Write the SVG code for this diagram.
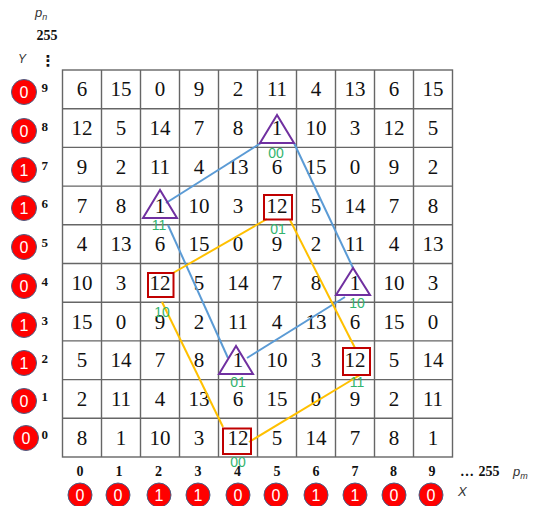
<svg xmlns="http://www.w3.org/2000/svg" width="535" height="506" viewBox="0 0 535 506">
<style>
.grid{stroke:#666;stroke-width:1.4;fill:none}
.n{font-family:"Liberation Serif",serif;font-size:21px;fill:#111;text-anchor:middle}
.ax{font-family:"Liberation Serif",serif;font-size:14px;font-weight:bold;fill:#111;text-anchor:middle}
.sup{font-family:"Liberation Serif",serif;font-size:13px;font-weight:bold;fill:#111}
.bit{fill:#ff0000;stroke:#4a5f86;stroke-width:1}
.bt{font-family:"Liberation Sans",sans-serif;font-size:16px;fill:#fff;text-anchor:middle}
.lab{font-family:"Liberation Sans",sans-serif;font-size:14px;fill:#33b46e;text-anchor:middle}
.it{font-family:"Liberation Sans",sans-serif;font-style:italic;fill:#333}
.tri{fill:none;stroke:#7030a0;stroke-width:2}
.sq{fill:none;stroke:#c00000;stroke-width:2}
.blue{stroke:#5b9bd5;stroke-width:2;fill:none}
.gold{stroke:#ffc000;stroke-width:2;fill:none}
</style>
<g id="grid">
<rect class="grid" x="62.5" y="70" width="390" height="387"/>
<path class="grid" d="M101.5 70V457M140.5 70V457M179.5 70V457M218.5 70V457M257.5 70V457M296.5 70V457M335.5 70V457M374.5 70V457M413.5 70V457"/>
<path class="grid" d="M62.5 108.7H452.5M62.5 147.4H452.5M62.5 186.1H452.5M62.5 224.8H452.5M62.5 263.5H452.5M62.5 302.2H452.5M62.5 340.9H452.5M62.5 379.6H452.5M62.5 418.3H452.5"/>
</g>
<g id="cells">
<text class="n" x="82" y="96.4">6</text><text class="n" x="121" y="96.4">15</text><text class="n" x="160" y="96.4">0</text><text class="n" x="199" y="96.4">9</text><text class="n" x="238" y="96.4">2</text><text class="n" x="277" y="96.4">11</text><text class="n" x="316" y="96.4">4</text><text class="n" x="355" y="96.4">13</text><text class="n" x="394" y="96.4">6</text><text class="n" x="433" y="96.4">15</text>
<text class="n" x="82" y="135.1">12</text><text class="n" x="121" y="135.1">5</text><text class="n" x="160" y="135.1">14</text><text class="n" x="199" y="135.1">7</text><text class="n" x="238" y="135.1">8</text><text class="n" x="277" y="135.1">1</text><text class="n" x="316" y="135.1">10</text><text class="n" x="355" y="135.1">3</text><text class="n" x="394" y="135.1">12</text><text class="n" x="433" y="135.1">5</text>
<text class="n" x="82" y="173.8">9</text><text class="n" x="121" y="173.8">2</text><text class="n" x="160" y="173.8">11</text><text class="n" x="199" y="173.8">4</text><text class="n" x="238" y="173.8">13</text><text class="n" x="277" y="173.8">6</text><text class="n" x="316" y="173.8">15</text><text class="n" x="355" y="173.8">0</text><text class="n" x="394" y="173.8">9</text><text class="n" x="433" y="173.8">2</text>
<text class="n" x="82" y="212.5">7</text><text class="n" x="121" y="212.5">8</text><text class="n" x="160" y="212.5">1</text><text class="n" x="199" y="212.5">10</text><text class="n" x="238" y="212.5">3</text><text class="n" x="277" y="212.5">12</text><text class="n" x="316" y="212.5">5</text><text class="n" x="355" y="212.5">14</text><text class="n" x="394" y="212.5">7</text><text class="n" x="433" y="212.5">8</text>
<text class="n" x="82" y="251.2">4</text><text class="n" x="121" y="251.2">13</text><text class="n" x="160" y="251.2">6</text><text class="n" x="199" y="251.2">15</text><text class="n" x="238" y="251.2">0</text><text class="n" x="277" y="251.2">9</text><text class="n" x="316" y="251.2">2</text><text class="n" x="355" y="251.2">11</text><text class="n" x="394" y="251.2">4</text><text class="n" x="433" y="251.2">13</text>
<text class="n" x="82" y="289.9">10</text><text class="n" x="121" y="289.9">3</text><text class="n" x="160" y="289.9">12</text><text class="n" x="199" y="289.9">5</text><text class="n" x="238" y="289.9">14</text><text class="n" x="277" y="289.9">7</text><text class="n" x="316" y="289.9">8</text><text class="n" x="355" y="289.9">1</text><text class="n" x="394" y="289.9">10</text><text class="n" x="433" y="289.9">3</text>
<text class="n" x="82" y="328.6">15</text><text class="n" x="121" y="328.6">0</text><text class="n" x="160" y="328.6">9</text><text class="n" x="199" y="328.6">2</text><text class="n" x="238" y="328.6">11</text><text class="n" x="277" y="328.6">4</text><text class="n" x="316" y="328.6">13</text><text class="n" x="355" y="328.6">6</text><text class="n" x="394" y="328.6">15</text><text class="n" x="433" y="328.6">0</text>
<text class="n" x="82" y="367.3">5</text><text class="n" x="121" y="367.3">14</text><text class="n" x="160" y="367.3">7</text><text class="n" x="199" y="367.3">8</text><text class="n" x="238" y="367.3">1</text><text class="n" x="277" y="367.3">10</text><text class="n" x="316" y="367.3">3</text><text class="n" x="355" y="367.3">12</text><text class="n" x="394" y="367.3">5</text><text class="n" x="433" y="367.3">14</text>
<text class="n" x="82" y="406">2</text><text class="n" x="121" y="406">11</text><text class="n" x="160" y="406">4</text><text class="n" x="199" y="406">13</text><text class="n" x="238" y="406">6</text><text class="n" x="277" y="406">15</text><text class="n" x="316" y="406">0</text><text class="n" x="355" y="406">9</text><text class="n" x="394" y="406">2</text><text class="n" x="433" y="406">11</text>
<text class="n" x="82" y="444.7">8</text><text class="n" x="121" y="444.7">1</text><text class="n" x="160" y="444.7">10</text><text class="n" x="199" y="444.7">3</text><text class="n" x="238" y="444.7">12</text><text class="n" x="277" y="444.7">5</text><text class="n" x="316" y="444.7">14</text><text class="n" x="355" y="444.7">7</text><text class="n" x="394" y="444.7">8</text><text class="n" x="433" y="444.7">1</text>
</g>
<g id="connectors">
<line class="blue" x1="261" y1="143" x2="166" y2="203"/>
<line class="blue" x1="294" y1="143" x2="353" y2="268"/>
<line class="blue" x1="168" y1="225" x2="228" y2="358"/>
<line class="blue" x1="247" y1="358" x2="345" y2="297"/>
<line class="gold" x1="267" y1="219" x2="173" y2="273"/>
<line class="gold" x1="290" y1="220" x2="355" y2="348"/>
<line class="gold" x1="162" y1="302" x2="223" y2="427"/>
<line class="gold" x1="249" y1="442" x2="360" y2="375"/>
</g>
<g id="tri-5-8"><polygon class="tri" points="277,115 260,143 294,143"/><text class="lab" x="276" y="157.5">00</text></g>
<g id="tri-2-6"><polygon class="tri" points="160,190 143,218 177,218"/><text class="lab" x="159" y="229.5">11</text></g>
<g id="tri-7-4"><polygon class="tri" points="353,268 336,295 370,295"/><text class="lab" x="357" y="307.5">10</text></g>
<g id="tri-4-2"><polygon class="tri" points="236,346 219,374 253,374"/><text class="lab" x="238" y="386.5">01</text></g>
<g id="sq-5-6"><rect class="sq" x="264" y="195" width="28" height="24.5"/><text class="lab" x="278" y="233.5">01</text></g>
<g id="sq-2-4"><rect class="sq" x="148" y="273" width="25.5" height="24"/><text class="lab" x="162" y="316.5">10</text></g>
<g id="sq-7-2"><rect class="sq" x="343" y="348" width="27" height="27"/><text class="lab" x="357" y="386.5">11</text></g>
<g id="sq-4-0"><rect class="sq" x="223" y="428.5" width="28" height="25.5"/><text class="lab" x="238" y="466.5">00</text></g>
<g id="y-axis">
<text class="it" x="35" y="17" font-size="13">p<tspan font-size="9" dy="3">n</tspan></text>
<text class="ax" x="47" y="40">255</text>
<text x="48" y="66" font-family="DejaVu Sans,sans-serif" font-size="15" font-weight="bold" fill="#111" text-anchor="middle">⋮</text>
<text class="it" x="18" y="63" font-size="12">Y</text>
<circle class="bit" cx="24" cy="92" r="12.5"/><text class="bt" x="24" y="98">0</text><text class="sup" x="41.5" y="92">9</text>
<circle class="bit" cx="24" cy="131" r="12.5"/><text class="bt" x="24" y="137">0</text><text class="sup" x="41.5" y="131">8</text>
<circle class="bit" cx="24" cy="170" r="12.5"/><text class="bt" x="24" y="176">1</text><text class="sup" x="41.5" y="170">7</text>
<circle class="bit" cx="24" cy="208" r="12.5"/><text class="bt" x="24" y="214">1</text><text class="sup" x="41.5" y="208">6</text>
<circle class="bit" cx="24" cy="247" r="12.5"/><text class="bt" x="24" y="253">0</text><text class="sup" x="41.5" y="247">5</text>
<circle class="bit" cx="24" cy="286" r="12.5"/><text class="bt" x="24" y="292">0</text><text class="sup" x="41.5" y="286">4</text>
<circle class="bit" cx="24" cy="325" r="12.5"/><text class="bt" x="24" y="331">1</text><text class="sup" x="41.5" y="325">3</text>
<circle class="bit" cx="24" cy="363" r="12.5"/><text class="bt" x="24" y="369">1</text><text class="sup" x="41.5" y="363">2</text>
<circle class="bit" cx="24" cy="401" r="12.5"/><text class="bt" x="24" y="407">0</text><text class="sup" x="41.5" y="401">1</text>
<circle class="bit" cx="26" cy="438" r="12.5"/><text class="bt" x="26" y="444">0</text><text class="sup" x="41.5" y="439">0</text>
</g>
<g id="x-axis">
<text class="ax" x="80" y="476">0</text><text class="ax" x="119" y="476">1</text><text class="ax" x="158.5" y="476">2</text><text class="ax" x="198" y="476">3</text><text class="ax" x="237.5" y="476">4</text><text class="ax" x="277" y="476">5</text><text class="ax" x="316" y="476">6</text><text class="ax" x="355" y="476">7</text><text class="ax" x="393.5" y="476">8</text><text class="ax" x="432" y="476">9</text>
<text x="467" y="476" font-family="Liberation Serif,serif" font-size="14" font-weight="bold" fill="#111" text-anchor="middle">…</text>
<text class="ax" x="489" y="476">255</text>
<text class="it" x="513" y="476" font-size="13">p<tspan font-size="9" dy="3">m</tspan></text>
<text class="it" x="458" y="496" font-size="13">X</text>
<circle class="bit" cx="80" cy="495" r="12"/><text class="bt" x="80" y="501">0</text>
<circle class="bit" cx="118" cy="495" r="12"/><text class="bt" x="118" y="501">0</text>
<circle class="bit" cx="159" cy="495" r="12"/><text class="bt" x="159" y="501">1</text>
<circle class="bit" cx="198" cy="495" r="12"/><text class="bt" x="198" y="501">1</text>
<circle class="bit" cx="238" cy="495" r="12"/><text class="bt" x="238" y="501">0</text>
<circle class="bit" cx="276" cy="495" r="12"/><text class="bt" x="276" y="501">0</text>
<circle class="bit" cx="316" cy="495" r="12"/><text class="bt" x="316" y="501">1</text>
<circle class="bit" cx="355" cy="495" r="12"/><text class="bt" x="355" y="501">1</text>
<circle class="bit" cx="394" cy="495" r="12"/><text class="bt" x="394" y="501">0</text>
<circle class="bit" cx="431" cy="495" r="12"/><text class="bt" x="431" y="501">0</text>
</g>
</svg>
